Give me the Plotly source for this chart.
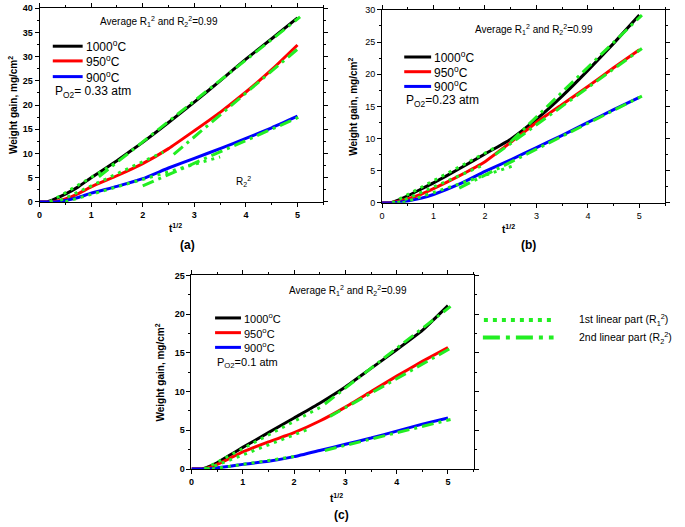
import plotly.graph_objects as go

W, H = 685, 527

# ---------------- data ----------------
x_grid = [0, 0.15, 0.3, 0.5, 0.75, 1, 1.5, 2, 2.5, 3, 3.5, 4, 4.5, 5]

a_1000 = [0, 0, 0.6, 1.6, 3.1, 5.0, 8.5, 12.3, 16.4, 20.6, 25.0, 29.5, 33.7, 38.0]
a_950 = [0, 0, 0.1, 0.6, 1.7, 3.1, 5.4, 7.9, 11.0, 14.7, 18.5, 22.7, 27.3, 32.4]
a_900 = [0, 0, 0, 0.3, 0.9, 1.8, 3.2, 4.8, 7.0, 9.0, 11.0, 13.1, 15.3, 17.7]

b_1000 = [0, 0, 0.4, 1.1, 2.1, 3.1, 5.3, 7.6, 9.9, 13.0, 16.6, 20.6, 24.8, 29.2]
b_950 = [0, 0, 0.2, 0.6, 1.3, 2.2, 4.2, 6.4, 9.4, 12.5, 15.3, 18.1, 21.0, 23.8]
b_900 = [0, 0, 0.1, 0.3, 0.7, 1.3, 2.9, 4.9, 6.7, 8.6, 10.5, 12.5, 14.5, 16.4]

c_x = [0, 0.2, 0.3, 0.5, 0.75, 1, 1.5, 2, 2.5, 3, 3.5, 4, 4.5, 5]
c_1000 = [0, 0, 0.2, 0.8, 1.8, 2.8, 4.7, 6.6, 8.5, 10.6, 13.0, 15.4, 17.9, 21.1]
c_950 = [0, 0, 0.1, 0.6, 1.4, 2.2, 3.5, 4.7, 6.2, 8.0, 10.0, 12.0, 13.9, 15.7]
c_900 = [0, 0, 0, 0.15, 0.35, 0.6, 1.0, 1.6, 2.4, 3.2, 4.0, 4.9, 5.8, 6.6]

# linear fits: (x_start, x_end), (y_start, y_end)
a_fit1 = {"1000": ([0.2, 1.5], [0.0, 8.2]), "950": ([0.4, 2.4], [0.3, 10.3]), "900": ([0.5, 3.5], [0.0, 9.3])}
a_fit2 = {"1000": ([1.15, 5.05], [5.2, 38.2]), "950": ([2.6, 5.05], [9.8, 32.0]), "900": ([2.0, 5.05], [3.3, 17.6])}
b_fit1 = {"1000": ([0.2, 2.2], [0.0, 8.6]), "950": ([0.3, 2.0], [0.0, 6.0]), "900": ([0.4, 2.6], [0.0, 5.9])}
b_fit2 = {"1000": ([2.5, 5.05], [9.5, 29.2]), "950": ([2.2, 5.05], [7.5, 24.0]), "900": ([1.5, 5.05], [2.3, 16.6])}
c_fit1 = {"1000": ([0.25, 2.55], [0.0, 8.1]), "950": ([0.3, 2.3], [0.0, 5.2]), "900": ([0.4, 2.0], [0.0, 1.6])}
c_fit2 = {"1000": ([2.6, 5.05], [8.4, 21.0]), "950": ([2.7, 5.05], [6.8, 15.6]), "900": ([2.6, 5.05], [2.4, 6.4])}

temps = ["1000", "950", "900"]
colors = {"1000": "#000000", "950": "#ff0000", "900": "#0000ff"}
GREEN = "#22ee22"
x_ticks = [0, 1, 2, 3, 4, 5]

panels = [
    dict(ax="", x=x_grid, ys=[a_1000, a_950, a_900], f1=a_fit1, f2=a_fit2, ymax=40, ydt=5,
         box=(36.7, 321.7, 3.3, 200.7), bold=True, p="P<sub>O2</sub>= 0.33 atm",
         leg=(50, 80, [42, 57, 73, 89]), avg=(157, 17), lab="(a)", labpos=(185, 245),
         ytitle_x=10, xtitle=(173, 227), fs=12),
    dict(ax="2", x=x_grid, ys=[b_1000, b_950, b_900], f1=b_fit1, f2=b_fit2, ymax=30, ydt=5,
         box=(380.7, 665, 5, 201.7), bold=False, p="P<sub>O2</sub>=0.23 atm",
         leg=(403, 430, [53, 68, 83, 98]), avg=(533, 25), lab="(b)", labpos=(528, 245),
         ytitle_x=352, xtitle=(508, 228), fs=12),
    dict(ax="3", x=c_x, ys=[c_1000, c_950, c_900], f1=c_fit1, f2=c_fit2, ymax=25, ydt=5,
         box=(189.3, 472.7, 275.7, 473), bold=True, p="P<sub>O2</sub>=0.1 atm",
         leg=(213, 239, [319, 334, 349, 365]), avg=(347, 291), lab="(c)", labpos=(340, 520),
         ytitle_x=158, xtitle=(335, 503), fs=11),
]


def px(x):
    return x / W


def py(y):
    return 1 - y / H


FONT = "Liberation Sans, Arial, sans-serif"
fig = go.Figure()
annotations = []
shapes = []
layout = dict(width=W, height=H, margin=dict(l=0, r=0, t=0, b=0), autosize=False,
              plot_bgcolor="white", paper_bgcolor="white", showlegend=False,
              font=dict(family=FONT, color="black"))


def note(text, x, y, size, xanchor="center", angle=0):
    annotations.append(dict(text=text, x=px(x), y=py(y), xref="paper", yref="paper",
                            xanchor=xanchor, yanchor="middle", showarrow=False, textangle=angle,
                            font=dict(size=size)))


for P in panels:
    xa = "x" + P["ax"]
    ya = "y" + P["ax"]
    for t, y in zip(temps, P["ys"]):
        fig.add_trace(go.Scatter(x=P["x"], y=y, mode="lines", xaxis=xa, yaxis=ya,
                                 line=dict(color=colors[t], width=3, shape="spline", smoothing=0.4)))
    for t in temps:
        fx, fy = P["f1"][t]
        fig.add_trace(go.Scatter(x=fx, y=fy, mode="lines", xaxis=xa, yaxis=ya,
                                 line=dict(color=GREEN, width=3, dash="3px,5px")))
        fx, fy = P["f2"][t]
        fig.add_trace(go.Scatter(x=fx, y=fy, mode="lines", xaxis=xa, yaxis=ya,
                                 line=dict(color=GREEN, width=3, dash="12px,5px,3px,5px")))
    x0, x1, y0, y1 = P["box"]
    tickfont = dict(size=9, family=FONT, weight="bold" if P["bold"] else "normal")
    common = dict(showline=True, linecolor="black", linewidth=1, mirror="allticks",
                  ticks="outside", ticklen=4, tickcolor="black", showgrid=False, zeroline=False,
                  tickfont=tickfont)
    layout["xaxis" + P["ax"]] = dict(domain=[px(x0), px(x1)], range=[0, 5.5], anchor=ya,
                                     tickvals=x_ticks, minor=dict(ticks="outside", ticklen=2, dtick=0.5, tickcolor="black"),
                                     **common)
    layout["yaxis" + P["ax"]] = dict(domain=[py(y1), py(y0)], range=[0, P["ymax"]], anchor=xa,
                                     dtick=P["ydt"], minor=dict(ticks="outside", ticklen=2, dtick=P["ydt"] / 2, tickcolor="black"),
                                     **common)
    note("<b>Weight gain, mg/cm<sup>2</sup></b>", P["ytitle_x"], (y0 + y1) / 2, 10, angle=-90)
    note("<b>t<sup>1/2</sup></b>", P["xtitle"][0], P["xtitle"][1], 10)
    note("<b>" + P["lab"] + "</b>", P["labpos"][0], P["labpos"][1], 12)
    note("Average R<sub>1</sub><sup>2</sup> and R<sub>2</sub><sup>2</sup>=0.99", P["avg"][0], P["avg"][1], 10)
    lx0, lx1, lys = P["leg"]
    for t, yy in zip(temps, lys[:3]):
        shapes.append(dict(type="line", xref="paper", yref="paper", x0=px(lx0), x1=px(lx1),
                           y0=py(yy), y1=py(yy), line=dict(color=colors[t], width=3)))
        note(t + "<sup>o</sup>C", lx1 + 1, yy, P["fs"], xanchor="left")
    note(P["p"], lx0, lys[3], P["fs"], xanchor="left")

note("R<sub>2</sub><sup>2</sup>", 242, 180, 10)

# green fit legend
shapes.append(dict(type="line", xref="paper", yref="paper", x0=px(483), x1=px(553), y0=py(321), y1=py(321),
                   line=dict(color=GREEN, width=4, dash="4px,5px")))
shapes.append(dict(type="line", xref="paper", yref="paper", x0=px(482), x1=px(553), y0=py(339), y1=py(339),
                   line=dict(color=GREEN, width=4, dash="17px,6px,4px,6px")))
note("1st linear part (R<sub>1</sub><sup>2</sup>)", 577, 321, 10.5, xanchor="left")
note("2nd linear part (R<sub>2</sub><sup>2</sup>)", 577, 339, 10.5, xanchor="left")

layout["annotations"] = annotations
layout["shapes"] = shapes
fig.update_layout(**layout)
fig.write_html("out.html", config={"displayModeBar": False},
               post_script="document.body.style.margin='0';document.body.style.overflow='hidden';")
